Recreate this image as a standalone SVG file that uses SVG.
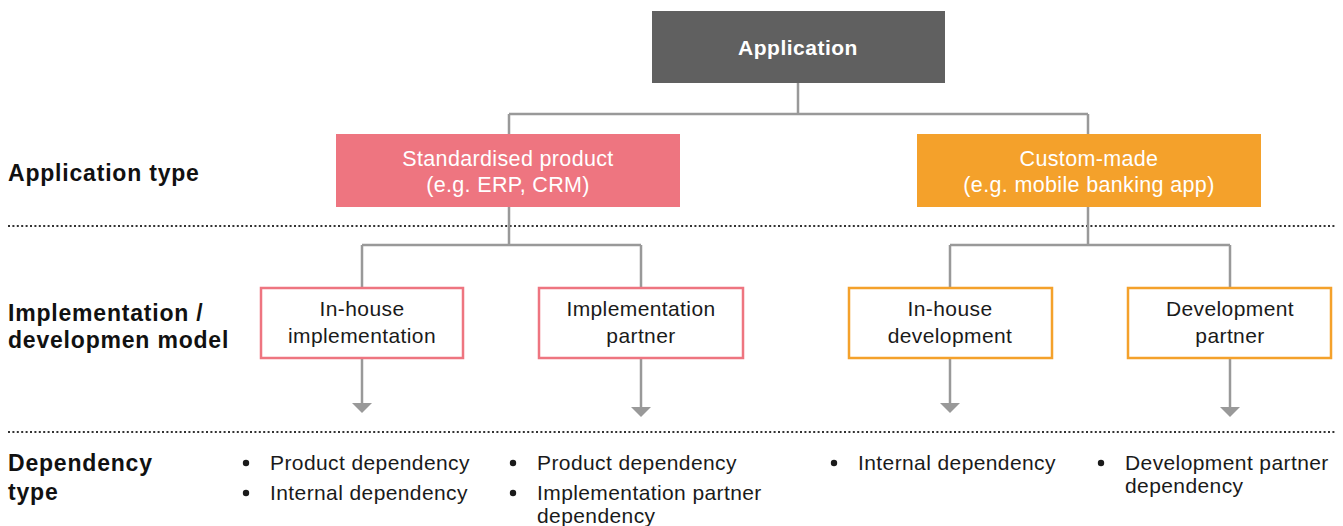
<svg xmlns="http://www.w3.org/2000/svg" width="1343" height="526" viewBox="0 0 1343 526">
  <style>
    .label { font-family: "Liberation Sans", Arial, sans-serif; font-weight: bold; font-size: 23px; letter-spacing: 0.8px; fill: #111; }
    .head { font-family: "Liberation Sans", Arial, sans-serif; font-weight: bold; font-size: 21px; letter-spacing: 0.5px; fill: #fff; text-anchor: middle; }
    .typeText { font-family: "Liberation Sans", Arial, sans-serif; font-size: 21.5px; letter-spacing: 0.35px; fill: #fff; text-anchor: middle; }
    .modelText { font-family: "Liberation Sans", Arial, sans-serif; font-size: 21px; letter-spacing: 0.4px; fill: #1a1a1a; text-anchor: middle; }
    .dep { font-family: "Liberation Sans", Arial, sans-serif; font-size: 21px; letter-spacing: 0.4px; fill: #1a1a1a; }
    .bullet { fill: #1a1a1a; }
    .conn { stroke: #999; stroke-width: 2.5; fill: none; }
    .sep { stroke: #333; stroke-width: 2; stroke-dasharray: 2 2.4; fill: none; }
    .pinkBox { fill: #fff; stroke: #EE7580; stroke-width: 2.5; }
    .orangeBox { fill: #fff; stroke: #F4A12B; stroke-width: 2.5; }
  </style>
  <defs>
    <marker id="arrowDown" markerUnits="userSpaceOnUse" markerWidth="20" markerHeight="10" viewBox="0 0 20 10" refX="10" refY="0" orient="0">
      <path d="M0,0 L20,0 L10,10 z" fill="#999"/>
    </marker>
  </defs>

  <!-- row separators -->
  <line class="sep" x1="8" y1="226" x2="1335" y2="226"/>
  <line class="sep" x1="8" y1="432" x2="1335" y2="432"/>

  <!-- row labels -->
  <g id="row-labels">
    <text class="label" x="8" y="181">Application type</text>
    <text class="label" x="8" y="321">Implementation /</text>
    <text class="label" x="8" y="348">developmen model</text>
    <text class="label" x="8" y="471">Dependency</text>
    <text class="label" x="8" y="500">type</text>
  </g>

  <!-- connectors -->
  <g id="connectors">
    <path class="conn" d="M798,83 V114 M509,114 H1088 M509,114 V134 M1088,114 V134"/>
    <path class="conn" d="M509,207 V245 M362,245 H641 M362,245 V288 M641,245 V288"/>
    <path class="conn" d="M1088,207 V245 M950,245 H1230 M950,245 V288 M1230,245 V288"/>
    <line class="conn" x1="362" y1="358" x2="362" y2="403" marker-end="url(#arrowDown)"/>
    <line class="conn" x1="641" y1="358" x2="641" y2="407" marker-end="url(#arrowDown)"/>
    <line class="conn" x1="950" y1="358" x2="950" y2="403" marker-end="url(#arrowDown)"/>
    <line class="conn" x1="1230" y1="358" x2="1230" y2="407" marker-end="url(#arrowDown)"/>
  </g>

  <!-- root -->
  <g id="application">
    <rect x="652" y="11" width="293" height="72" fill="#606060"/>
    <text class="head" x="798" y="55">Application</text>
  </g>

  <!-- application types -->
  <g id="standardised-product">
    <rect x="336" y="134" width="344" height="73" fill="#EE7580"/>
    <text class="typeText" x="508" y="166">Standardised product</text>
    <text class="typeText" x="508" y="192">(e.g. ERP, CRM)</text>
  </g>
  <g id="custom-made">
    <rect x="917" y="134" width="344" height="73" fill="#F4A12B"/>
    <text class="typeText" x="1089" y="166">Custom-made</text>
    <text class="typeText" x="1089" y="192">(e.g. mobile banking app)</text>
  </g>

  <!-- implementation / development models -->
  <g id="in-house-implementation">
    <rect class="pinkBox" x="261" y="288" width="202" height="70"/>
    <text class="modelText" x="362" y="316">In-house</text>
    <text class="modelText" x="362" y="343">implementation</text>
  </g>
  <g id="implementation-partner">
    <rect class="pinkBox" x="539" y="288" width="204" height="70"/>
    <text class="modelText" x="641" y="316">Implementation</text>
    <text class="modelText" x="641" y="343">partner</text>
  </g>
  <g id="in-house-development">
    <rect class="orangeBox" x="849" y="288" width="203" height="70"/>
    <text class="modelText" x="950" y="316">In-house</text>
    <text class="modelText" x="950" y="343">development</text>
  </g>
  <g id="development-partner">
    <rect class="orangeBox" x="1128" y="288" width="203" height="70"/>
    <text class="modelText" x="1230" y="316">Development</text>
    <text class="modelText" x="1230" y="343">partner</text>
  </g>

  <!-- dependency types -->
  <g id="deps-in-house-implementation">
    <circle class="bullet" cx="246" cy="463" r="3.2"/>
    <text class="dep" x="270" y="470">Product dependency</text>
    <circle class="bullet" cx="246" cy="493" r="3.2"/>
    <text class="dep" x="270" y="500">Internal dependency</text>
  </g>
  <g id="deps-implementation-partner">
    <circle class="bullet" cx="513" cy="463" r="3.2"/>
    <text class="dep" x="537" y="470">Product dependency</text>
    <circle class="bullet" cx="513" cy="493" r="3.2"/>
    <text class="dep" x="537" y="500">Implementation partner</text>
    <text class="dep" x="537" y="523">dependency</text>
  </g>
  <g id="deps-in-house-development">
    <circle class="bullet" cx="834" cy="463" r="3.2"/>
    <text class="dep" x="858" y="470">Internal dependency</text>
  </g>
  <g id="deps-development-partner">
    <circle class="bullet" cx="1101" cy="463" r="3.2"/>
    <text class="dep" x="1125" y="470">Development partner</text>
    <text class="dep" x="1125" y="493">dependency</text>
  </g>
</svg>
